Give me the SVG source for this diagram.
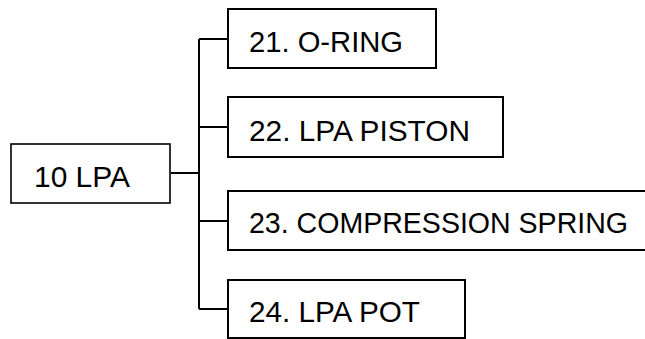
<svg xmlns="http://www.w3.org/2000/svg" width="645" height="339" viewBox="0 0 645 339">
<style>
.box{fill:#fff;stroke:#000;stroke-width:2}
.lbl{font-family:"Liberation Sans","Noto Sans CJK JP",sans-serif;font-size:29.5px;fill:#000}
.con{fill:none;stroke:#000;stroke-width:2}
</style>
<rect width="645" height="339" fill="#fff"/>
<g id="connectors">
<path class="con" d="M171 173H199M199 39V309M199 39H228M199 127H228M199 221H228M199 309H228"/>
</g>
<g id="n10"><rect class="box" x="11" y="144" width="159" height="59" style="stroke-width:1.6"/><text class="lbl" x="34" y="187" textLength="96" lengthAdjust="spacingAndGlyphs">10 LPA</text></g>
<g id="n21"><rect class="box" x="228" y="9" width="208" height="59"/><text class="lbl" x="249" y="52" textLength="154" lengthAdjust="spacingAndGlyphs">21. O-RING</text></g>
<g id="n22"><rect class="box" x="228" y="97" width="275" height="60"/><text class="lbl" x="249" y="141" textLength="221" lengthAdjust="spacingAndGlyphs">22. LPA PISTON</text></g>
<g id="n23"><rect class="box" x="228" y="191" width="430" height="59"/><text class="lbl" x="249" y="233" textLength="379" lengthAdjust="spacingAndGlyphs">23. COMPRESSION SPRING</text></g>
<g id="n24"><rect class="box" x="228" y="280" width="237" height="58"/><text class="lbl" x="249" y="322" textLength="171" lengthAdjust="spacingAndGlyphs">24. LPA POT</text></g>
</svg>
